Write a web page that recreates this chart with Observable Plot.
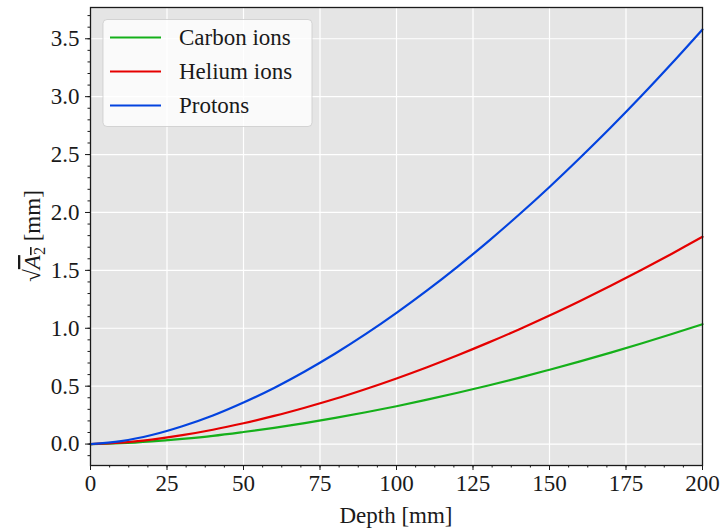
<!DOCTYPE html>
<html>
<head>
<meta charset="utf-8">
<script src="https://cdn.jsdelivr.net/npm/d3@7"></script>
<script src="https://cdn.jsdelivr.net/npm/@observablehq/plot@0.6"></script>
<style>
  html, body { margin: 0; padding: 0; background: #ffffff; }
  #chart svg { display: block; }
</style>
</head>
<body>
<div id="chart"></div>
<script>
// Depth samples (mm)
const depth = [0, 10, 20, 30, 40, 50, 60, 70, 80, 90, 100, 110, 120, 130, 140, 150, 160, 170, 180, 190, 200];

// sqrt(A2) in mm for each beam type
const protons = [0, 0.025, 0.078, 0.154, 0.247, 0.359, 0.485, 0.627, 0.782, 0.951, 1.133, 1.327, 1.533, 1.751, 1.980, 2.220, 2.472, 2.733, 3.005, 3.288, 3.580];
const helium  = [0, 0.012, 0.039, 0.077, 0.124, 0.180, 0.243, 0.314, 0.391, 0.476, 0.567, 0.664, 0.767, 0.876, 0.990, 1.110, 1.236, 1.367, 1.503, 1.644, 1.790];
const carbon  = [0, 0.007, 0.023, 0.045, 0.071, 0.104, 0.140, 0.181, 0.226, 0.275, 0.327, 0.384, 0.443, 0.506, 0.572, 0.642, 0.714, 0.790, 0.868, 0.950, 1.035];

const seriesNames = ["Carbon ions", "Helium ions", "Protons"];
const seriesValues = [carbon, helium, protons];
const seriesColors = ["#15b01a", "#e50000", "#0343df"];

const xTicks = [0, 25, 50, 75, 100, 125, 150, 175, 200];
const xMinor = d3.range(0, 200.01, 6.25);
const yTicks = [0, 0.5, 1, 1.5, 2, 2.5, 3, 3.5];
const yMinor = d3.range(-0.1, 3.75, 0.1).map(v => Math.round(v * 10) / 10);

const rows = seriesNames.flatMap((name, i) =>
  depth.map((d, j) => ({series: name, depth: d, value: seriesValues[i][j]}))
);

const font = "'Liberation Serif', 'DejaVu Serif', serif";
const fs = 23;
const ink = "#1a1a1a";

const chart = Plot.plot({
  width: 721,
  height: 532,
  marginLeft: 90,
  marginRight: 19,
  marginTop: 7,
  marginBottom: 67,
  style: {fontFamily: font, fontSize: fs + "px", background: "#ffffff", color: ink},
  x: {domain: [0, 200], label: null},
  y: {domain: [-0.185, 3.77], label: null},
  color: {domain: seriesNames, range: seriesColors},
  marks: [
    Plot.frame({fill: "#e5e5e5", stroke: null}),
    Plot.gridX(xTicks, {stroke: "#ffffff", strokeOpacity: 1, strokeWidth: 1.2}),
    Plot.gridY(yTicks, {stroke: "#ffffff", strokeOpacity: 1, strokeWidth: 1.2}),
    Plot.line(rows, {x: "depth", y: "value", z: "series", stroke: "series", strokeWidth: 2.2, curve: "catmull-rom"}),
    Plot.axisX(xMinor, {tickSize: 2.5, text: null, stroke: ink}),
    Plot.axisY(yMinor, {tickSize: 2.5, text: null, stroke: ink}),
    Plot.axisX(xTicks, {tickSize: 5, tickPadding: 4, tickFormat: d => String(d), fontSize: fs, label: null, stroke: ink}),
    Plot.axisY(yTicks, {tickSize: 5, tickPadding: 6, tickFormat: d3.format(".1f"), fontSize: fs, label: null, stroke: ink}),
    Plot.frame({stroke: ink, strokeWidth: 1.3})
  ]
});

const svg = d3.select(chart);

// Legend box
const leg = svg.append("g").attr("text-anchor", "start");
leg.append("rect")
  .attr("x", 103).attr("y", 19.5).attr("width", 209).attr("height", 107)
  .attr("rx", 4).attr("ry", 4)
  .attr("fill", "#ffffff").attr("fill-opacity", 0.8)
  .attr("stroke", "#cccccc").attr("stroke-opacity", 0.8);
seriesNames.forEach((name, i) => {
  const y = 37.5 + i * 34;
  leg.append("line")
    .attr("x1", 110).attr("x2", 161).attr("y1", y).attr("y2", y)
    .attr("stroke", seriesColors[i]).attr("stroke-width", 2.2);
  leg.append("text")
    .attr("x", 179).attr("y", y).attr("dy", "0.33em")
    .attr("text-anchor", "start")
    .attr("font-family", font).attr("font-size", fs).attr("fill", ink)
    .text(name);
});

// Axis titles
svg.append("text")
  .attr("x", 396).attr("y", 523)
  .attr("text-anchor", "middle")
  .attr("font-family", font).attr("font-size", fs).attr("fill", ink)
  .text("Depth [mm]");

const yl = svg.append("text")
  .attr("transform", "translate(40,236) rotate(-90)")
  .attr("text-anchor", "middle")
  .attr("font-family", font).attr("font-size", fs).attr("fill", ink);
yl.append("tspan").text("\u221A");
const ov = yl.append("tspan").attr("text-decoration", "overline");
ov.append("tspan").attr("font-style", "italic").text("A");
ov.append("tspan").attr("font-size", fs * 0.7).attr("dy", 5).text("2");
yl.append("tspan").attr("dy", -5).text(" [mm]");

document.getElementById("chart").appendChild(chart);
</script>
</body>
</html>
